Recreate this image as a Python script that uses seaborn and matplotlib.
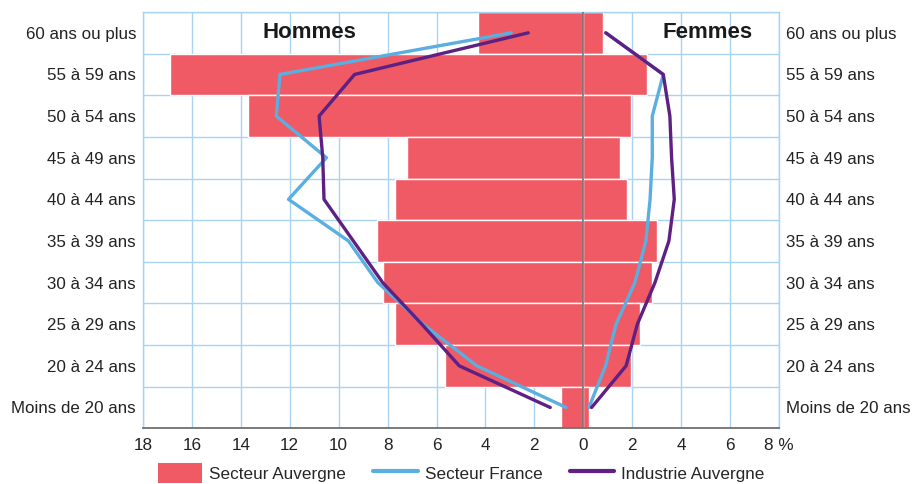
import numpy as np
import pandas as pd
import matplotlib
matplotlib.use("Agg")
import matplotlib.pyplot as plt
from matplotlib.patches import Patch
from matplotlib.lines import Line2D
import seaborn as sns

ages = ["60 ans ou plus", "55 à 59 ans", "50 à 54 ans", "45 à 49 ans", "40 à 44 ans",
        "35 à 39 ans", "30 à 34 ans", "25 à 29 ans", "20 à 24 ans", "Moins de 20 ans"]
hommes_auvergne = [4.3, 16.9, 13.7, 7.2, 7.7, 8.45, 8.2, 7.7, 5.65, 0.9]
femmes_auvergne = [0.8, 2.6, 1.95, 1.5, 1.8, 3.0, 2.8, 2.3, 1.95, 0.25]
hommes_france = [2.95, 12.4, 12.55, 10.5, 12.05, 9.6, 8.4, 6.55, 4.35, 0.7]
femmes_france = [0.92, 3.27, 2.82, 2.82, 2.73, 2.56, 2.11, 1.34, 0.91, 0.23]
hommes_industrie = [2.25, 9.35, 10.8, 10.65, 10.6, 9.4, 8.2, 6.6, 5.07, 1.35]
femmes_industrie = [0.92, 3.27, 3.54, 3.61, 3.72, 3.5, 2.93, 2.21, 1.75, 0.34]
xticks = list(range(-18, 9, 2))
legend_labels = ["Secteur Auvergne", "Secteur France", "Industrie Auvergne"]

RED = "#EF5A64"
BLUE = "#5BAEE0"
PURPLE = "#5E2083"
GRID = "#A8D4F1"

sns.set_theme(style="white")
plt.rcParams["font.family"] = ["Liberation Sans", "DejaVu Sans"]

fig = plt.figure(figsize=(9.13, 4.84), dpi=100)
ax = fig.add_axes([0.1566, 0.1151, 0.6966, 0.8601])

df = pd.DataFrame({"age": ages,
                   "hommes": [-v for v in hommes_auvergne],
                   "femmes": femmes_auvergne})
sns.barplot(data=df, y="age", x="hommes", order=ages, color=RED, saturation=1,
            width=1.0, edgecolor="white", linewidth=1.0, ax=ax, zorder=2)
sns.barplot(data=df, y="age", x="femmes", order=ages, color=RED, saturation=1,
            width=1.0, edgecolor="white", linewidth=1.0, ax=ax, zorder=2)

pos = np.arange(len(ages))
ax.axvline(0, color="#6a6a6a", lw=1.1, zorder=3)

for vals, col in [(hommes_france, BLUE), (hommes_industrie, PURPLE)]:
    sns.lineplot(x=[-v for v in vals], y=pos, sort=False, orient="y", estimator=None,
                 color=col, lw=2.4, ax=ax, zorder=4)
for vals, col in [(femmes_france, BLUE), (femmes_industrie, PURPLE)]:
    sns.lineplot(x=vals, y=pos, sort=False, orient="y", estimator=None,
                 color=col, lw=2.4, ax=ax, zorder=4)

ax.set_xlim(-18, 8)
ax.set_ylim(len(ages) - 0.5, -0.5)
ax.set_xticks(xticks)
ax.set_xticklabels([str(abs(t)) if t != 8 else "8 %" for t in xticks], fontsize=12.3)
ax.set_yticks(pos)
ax.set_yticklabels(ages, fontsize=12.2)
ax.set_yticks(np.arange(-0.5, len(ages)), minor=True)
ax.set_xlabel("")
ax.set_ylabel("")
ax.tick_params(axis="y", which="both", length=0, labelright=True, pad=5, colors="#222222")
ax.tick_params(axis="x", length=0, pad=7, colors="#222222")
ax.set_axisbelow(True)
ax.grid(True, axis="x", which="major", color=GRID, lw=1.0)
ax.grid(True, axis="y", which="minor", color=GRID, lw=1.0)
ax.grid(False, axis="y", which="major")
for s in ["left", "right", "top"]:
    ax.spines[s].set_color(GRID)
    ax.spines[s].set_linewidth(1.0)
ax.spines["bottom"].set_color("#707070")
ax.spines["bottom"].set_linewidth(1.3)
if ax.get_legend():
    ax.get_legend().remove()

ax.text(-11.2, 0, "Hommes", fontsize=16, fontweight="bold", ha="center", va="center",
        color="#1a1a1a", zorder=5)
ax.text(5.1, 0, "Femmes", fontsize=16, fontweight="bold", ha="center", va="center",
        color="#1a1a1a", zorder=5)

handles = [Patch(facecolor=RED, edgecolor="none"),
           Line2D([], [], color=BLUE, lw=3),
           Line2D([], [], color=PURPLE, lw=3)]
fig.legend(handles, legend_labels, loc="center", bbox_to_anchor=(0.505, 0.022), ncol=3,
           frameon=False, fontsize=12.3, handlelength=2.6, handleheight=1.4,
           handletextpad=0.4, columnspacing=1.6)

fig.savefig("out.png", dpi=100)
